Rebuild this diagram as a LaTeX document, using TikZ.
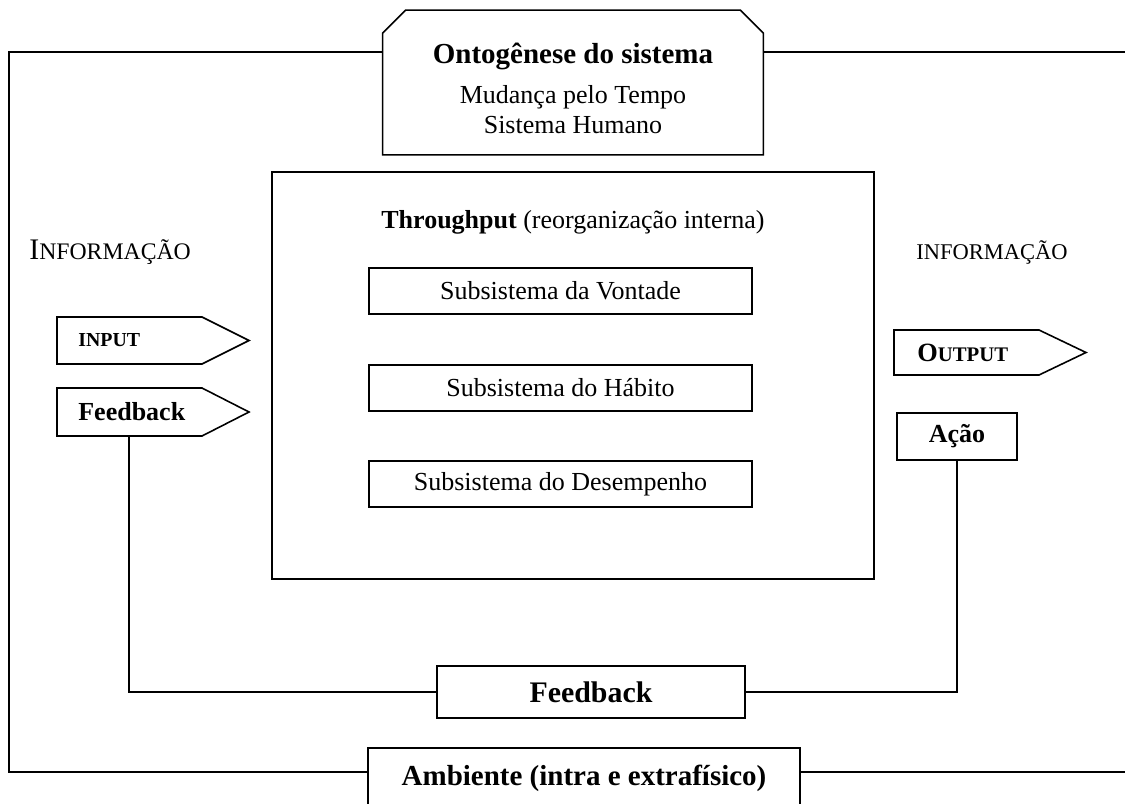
\documentclass[tikz,border=0pt]{standalone}
\usepackage{fontspec}
\setmainfont{Liberation Serif}
\usetikzlibrary{positioning,calc}
\newcommand{\pw}{0.02cm}

\begin{document}
\begin{tikzpicture}[x=0.02cm, y=-0.02cm,
    box/.style={draw, line width=0.9pt, fill=white, inner sep=0pt},
    lin/.style={line width=0.9pt},
    txt/.style={font=\fontsize{14.8}{17.5}\selectfont, inner sep=0pt},
    bld/.style={font=\fontsize{14.8}{17.5}\selectfont\bfseries, inner sep=0pt},
    sub/.style={box, minimum width=383*\pw, minimum height=46*\pw, txt}
  ]
    \useasboundingbox (0,0) rectangle (1125,804);
    \clip (0,0) rectangle (1125,804);

    % outer frame corners
    \coordinate (ftl) at (9,52);
    \coordinate (fbl) at (9,772);
    \coordinate (ftr) at (1125,52);
    \coordinate (fbr) at (1125,772);

    % Ontogenese box (chamfered top corners)
    \node[minimum width=380*\pw, minimum height=144*\pw] (onto) at (573,82.5) {};
    \draw[box] (onto.south west) -- ($(onto.north west)+(0,23)$) -- ($(onto.north west)+(23,0)$)
      -- ($(onto.north east)+(-23,0)$) -- ($(onto.north east)+(0,23)$) -- (onto.south east) -- cycle;
    \node[font=\fontsize{16.5}{19}\selectfont\bfseries] (ontot) at (573,56) {Ontogênese do sistema};
    \node[txt] (ontom) at (573,97) {Mudança pelo Tempo};
    \node[txt] (ontoh) at (573,125) {Sistema Humano};

    % Ambiente box
    \node[box, minimum width=432*\pw, minimum height=60*\pw,
      font=\fontsize{16.5}{19}\selectfont\bfseries] (amb) at (584,778) {Ambiente (intra e extrafísico)};

    \draw[lin] (onto.west |- ftl) -- (ftl) -- (fbl) -- (amb.west |- fbl);
    \draw[lin] (onto.east |- ftr) -- (ftr);
    \draw[lin] (amb.east |- fbr) -- (fbr);

    % Throughput
    \node[box, minimum width=602*\pw, minimum height=407*\pw] (thr) at (573,375.5) {};
    \node[txt] (thrt) at (573,222) {\textbf{Throughput} (reorganização interna)};
    \node[sub] (sv) at (560.5,291) {Subsistema da Vontade};
    \node[sub] (sh) at (560.5,388) {Subsistema do Hábito};
    \node[sub] (sd) at (560.5,484) {Subsistema do Desempenho};

    % left side
    \node[anchor=west, inner sep=0pt] (infl) at (29,252)
      {{\fontsize{17}{20}\selectfont I}{\fontsize{13.5}{16}\selectfont NFORMAÇÃO}};
    \draw[box] (57,317) -- (202,317) -- (249,340.5) -- (202,364) -- (57,364) -- cycle;
    \node[anchor=west, font=\fontsize{11.3}{13}\selectfont\bfseries, inner sep=0pt] (inp) at (78,340.5) {INPUT};
    \draw[box] (57,388) -- (202,388) -- (249,412) -- (202,436) -- (57,436) -- cycle;
    \node[anchor=west, bld] (fbi) at (78,412) {Feedback};
    \coordinate (fbo) at (129,436);

    % right side
    \node[font=\fontsize{12.8}{15}\selectfont, inner sep=0pt] (infr) at (992,252) {INFORMAÇÃO};
    \draw[box] (894,330) -- (1039,330) -- (1086,352.5) -- (1039,375) -- (894,375) -- cycle;
    \node[anchor=west, inner sep=0pt] (out) at (917,352.5)
      {{\fontsize{15}{18}\selectfont\bfseries O}{\fontsize{11.8}{14}\selectfont\bfseries UTPUT}};
    \node[box, bld, minimum width=120*\pw, minimum height=47*\pw] (aca) at (957,436.5) {Ação};

    % feedback loop
    \node[box, minimum width=308*\pw, minimum height=52*\pw,
      font=\fontsize{17}{20}\selectfont\bfseries] (fbk) at (591,692) {Feedback};
    \draw[lin] (fbo) |- (fbk.west);
    \draw[lin] (aca.south) |- (fbk.east);
\end{tikzpicture}
\end{document}
